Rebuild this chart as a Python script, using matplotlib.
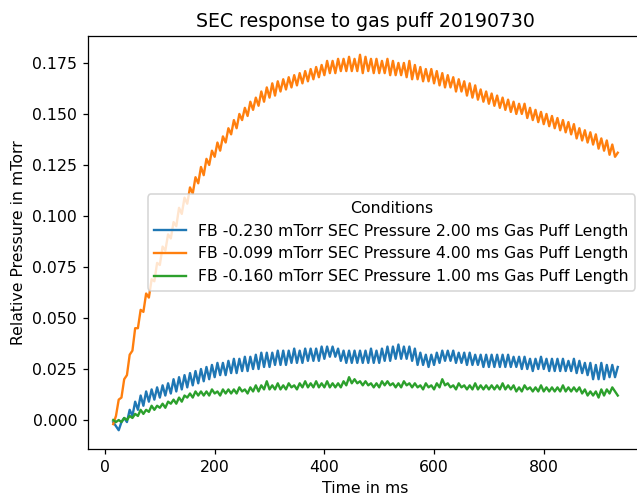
import numpy as np
import matplotlib
matplotlib.use('Agg')
import matplotlib.pyplot as plt

# sample times in ms (one value every 5 ms)
time_ms = np.arange(15, 940, 5)

labels = ['FB -0.230 mTorr SEC Pressure 2.00 ms Gas Puff Length',
          'FB -0.099 mTorr SEC Pressure 4.00 ms Gas Puff Length',
          'FB -0.160 mTorr SEC Pressure 1.00 ms Gas Puff Length']

# relative pressure, in units of 0.001 mTorr
blue = [-1, -3, -5, -1, 1, -1, 5, 2, 9, 5, 12, 7, 14, 9, 15, 10, 16, 11, 17, 12,
        18, 13, 20, 14, 21, 15, 22, 16, 23, 17, 24, 18, 25, 19, 26, 20, 27, 21, 28, 22,
        28, 22, 29, 23, 30, 23, 30, 24, 31, 24, 31, 25, 32, 25, 33, 26, 33, 26, 33, 27,
        34, 27, 34, 27, 34, 28, 35, 28, 34, 28, 35, 29, 35, 29, 35, 29, 36, 30, 36, 31,
        36, 31, 35, 29, 34, 28, 34, 28, 34, 28, 34, 28, 34, 28, 35, 28, 34, 28, 35, 29,
        36, 29, 36, 30, 37, 30, 36, 30, 36, 29, 35, 27, 33, 27, 32, 26, 32, 27, 33, 28,
        34, 29, 34, 29, 34, 28, 33, 28, 33, 27, 33, 27, 32, 27, 32, 26, 32, 26, 32, 26,
        32, 26, 32, 26, 32, 26, 31, 26, 31, 25, 31, 25, 30, 24, 30, 25, 31, 25, 30, 24,
        30, 24, 30, 24, 30, 24, 29, 24, 30, 23, 29, 23, 28, 22, 28, 20, 27, 20, 28, 20,
        27, 21, 27, 21, 26]

orange = [-2, 2, 10, 11, 20, 22, 32, 34, 45, 45, 54, 53, 62, 60, 69, 68, 77, 76, 85, 83,
          91, 89, 97, 95, 104, 101, 109, 106, 114, 111, 119, 116, 124, 120, 128, 125, 132, 129, 136, 132,
          139, 136, 143, 140, 147, 143, 150, 147, 153, 149, 156, 152, 158, 154, 161, 156, 163, 158, 165, 159,
          166, 161, 167, 162, 168, 163, 169, 164, 170, 165, 171, 166, 172, 167, 173, 168, 174, 169, 176, 170,
          176, 170, 177, 171, 177, 171, 178, 171, 177, 171, 179, 170, 178, 171, 177, 170, 177, 170, 176, 170,
          177, 169, 176, 169, 175, 169, 175, 168, 176, 167, 174, 167, 173, 166, 172, 166, 172, 165, 171, 164,
          170, 163, 169, 163, 168, 161, 167, 161, 166, 159, 165, 158, 164, 157, 162, 156, 161, 155, 160, 154,
          159, 153, 158, 152, 157, 151, 156, 150, 155, 150, 155, 148, 153, 147, 152, 146, 151, 145, 150, 144,
          149, 143, 148, 142, 147, 141, 146, 140, 145, 138, 143, 137, 142, 136, 141, 135, 140, 133, 138, 132,
          137, 130, 135, 129, 131]

green = [0, -1, 0, -1, 1, 0, 2, 1, 3, 2, 5, 3, 5, 4, 7, 5, 7, 6, 8, 6,
         9, 8, 10, 8, 11, 9, 12, 11, 13, 11, 14, 12, 14, 12, 14, 12, 15, 13, 14, 12,
         15, 13, 15, 13, 15, 13, 16, 14, 15, 13, 16, 14, 17, 14, 17, 15, 19, 15, 17, 15,
         18, 15, 17, 15, 18, 16, 17, 15, 18, 16, 19, 16, 18, 16, 19, 16, 18, 16, 19, 16,
         18, 16, 18, 16, 19, 17, 21, 18, 20, 18, 19, 17, 19, 17, 18, 16, 18, 16, 19, 17,
         19, 17, 18, 16, 18, 16, 19, 17, 18, 16, 18, 16, 17, 15, 18, 16, 17, 15, 18, 16,
         20, 17, 18, 16, 17, 15, 18, 16, 17, 15, 17, 15, 18, 15, 17, 15, 17, 15, 17, 15,
         17, 15, 18, 15, 17, 15, 17, 14, 16, 14, 17, 15, 16, 14, 16, 14, 17, 14, 16, 14,
         16, 14, 16, 14, 17, 14, 16, 14, 16, 14, 16, 13, 15, 12, 14, 12, 14, 11, 15, 12,
         15, 13, 16, 14, 12]

# the reference is drawn a little larger than 100 dpi, so use 113 dpi
fig = plt.figure(figsize=(637/113, 495/113), dpi=113)
ax = fig.add_axes([88/637, 46/495, 555/637, 413/495])

for vals, lab in zip([blue, orange, green], labels):
    ax.plot(time_ms, np.array(vals) / 1000, label=lab)

ax.set_title('SEC response to gas puff 20190730')
ax.set_xlabel('Time in ms')
ax.set_ylabel('Relative Pressure in mTorr')
ax.legend(title='Conditions', loc='center right')

fig.savefig('out.png', dpi=113)
